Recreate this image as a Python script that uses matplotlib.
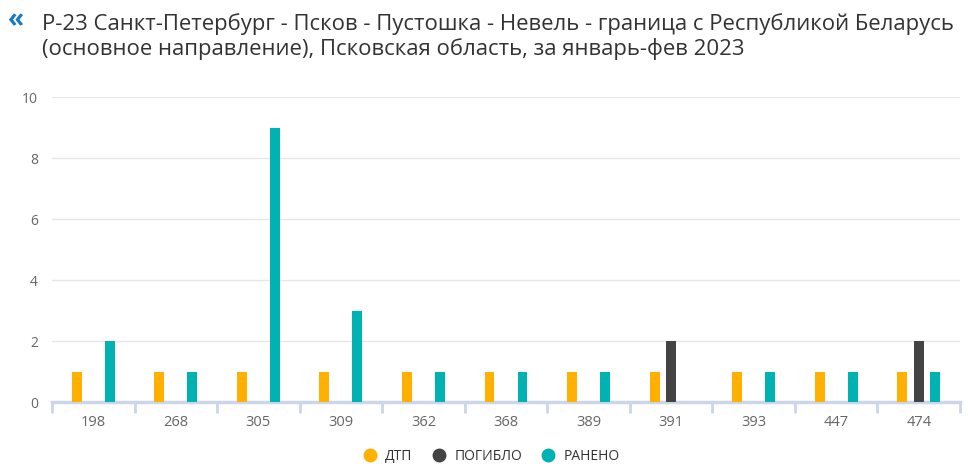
import matplotlib
matplotlib.use("Agg")
import matplotlib.pyplot as plt
import numpy as np

plt.rcParams['font.family'] = ['Open Sans', 'DejaVu Sans']

categories = ["198", "268", "305", "309", "362", "368", "389", "391", "393", "447", "474"]
dtp = [1, 1, 1, 1, 1, 1, 1, 1, 1, 1, 1]
pogiblo = [0, 0, 0, 0, 0, 0, 0, 2, 0, 0, 2]
raneno = [2, 1, 9, 3, 1, 1, 1, 0, 1, 1, 1]

series_names = ["ДТП", "ПОГИБЛО", "РАНЕНО"]
colors = ["#FFB000", "#434343", "#00B2B2"]

title = ("Р-23 Санкт-Петербург - Псков - Пустошка - Невель - граница с Республикой Беларусь\n"
         "(основное направление), Псковская область, за январь-фев 2023")

fig = plt.figure(figsize=(9.68, 4.77), dpi=100)
ax = fig.add_axes([52/968, 1 - 403/477, (960-52)/968, (403-98)/477])

x = np.arange(len(categories))
w = 0.12
off = 0.2
for vals, name, cc, dx in zip([dtp, pogiblo, raneno], series_names, colors, [-off, 0, off]):
    ax.bar(x + dx, vals, w, color=cc, label=name, zorder=3)

ax.set_xlim(-0.5, len(categories) - 0.5)
ax.set_ylim(0, 10)
ax.set_yticks([0, 2, 4, 6, 8, 10])
ax.yaxis.grid(True, color="#e6e6e6", linewidth=1, zorder=0)
ax.tick_params(axis="y", length=0, pad=10, labelsize=10, labelcolor="#666666")

ax.set_xticks(x)
ax.set_xticklabels(categories)
ax.tick_params(axis="x", length=0, pad=9, labelsize=10.5, labelcolor="#666666")
ax.set_xticks(np.arange(len(categories) + 1) - 0.5, minor=True)
ax.tick_params(axis="x", which="minor", length=8, width=2, color="#ccd6eb", direction="out")

for s in ["top", "right", "left"]:
    ax.spines[s].set_visible(False)
ax.spines["bottom"].set_color("#ccd6eb")
ax.spines["bottom"].set_linewidth(2.5)

fig.text(42/968, 1 - 13/477, title, ha="left", va="top", fontsize=15.9,
         color="#333333", linespacing=1.2)
fig.text(8/968, 1 - 6/477, "«", ha="left", va="top", fontsize=19,
         color="#1a7ac4", fontweight="bold")

handles = [plt.Line2D([], [], marker="o", linestyle="", markersize=9,
                      color=cc) for cc in colors]
fig.legend(handles, series_names, loc="center", bbox_to_anchor=(488/968, 1 - 457/477),
           ncol=3, frameon=False, fontsize=10, handletextpad=0.1, columnspacing=0.9,
           labelcolor="#333333")

fig.savefig("out.png", dpi=100)
